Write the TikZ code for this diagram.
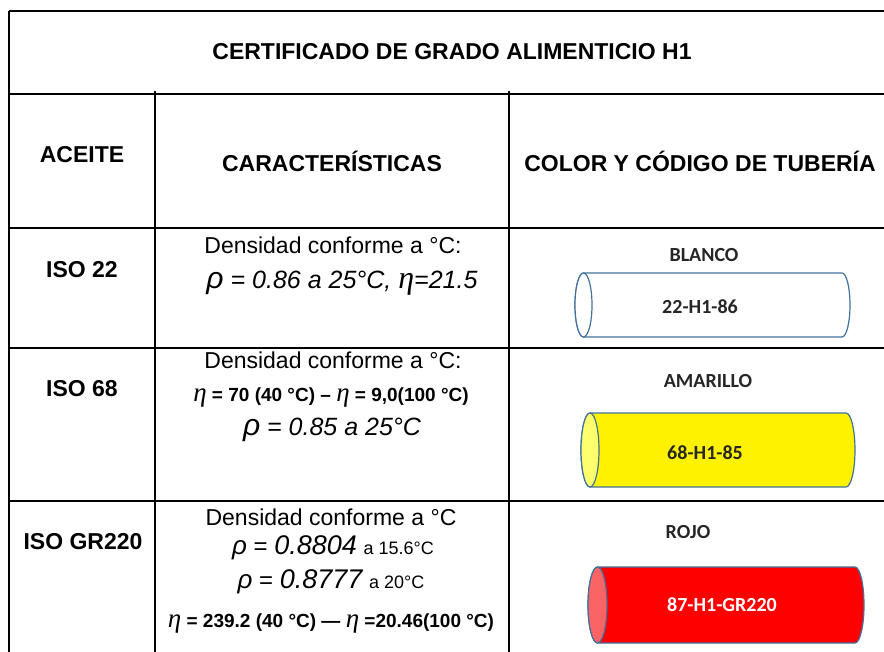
\documentclass[tikz,border=0pt]{standalone}
\usepackage{fontspec}
\setmainfont{Liberation Sans}
\newfontfamily\calibri{Carlito}
\newfontfamily\greekserif{Liberation Serif}
\usepackage{tikz}
\usetikzlibrary{positioning}

\definecolor{pipeline}{RGB}{65,113,156}
\definecolor{capyellow}{RGB}{255,255,110}
\definecolor{capred}{RGB}{250,100,100}
\definecolor{codetext}{RGB}{38,38,38}

\newcommand{\pxsize}[1]{\fontsize{#1}{#1}\selectfont}
\newcommand{\etaglyph}[1]{{\greekserif\mdseries\itshape\pxsize{#1}η}}
\newcommand{\rhoglyph}[1]{{\itshape\pxsize{#1}ρ}}

\tikzset{
  tabline/.style={line width=1.6pt, black},
  head/.style={font=\bfseries\pxsize{23}, inner sep=0pt},
  txt/.style={font=\pxsize{23}, inner sep=0pt},
  pipe/.style={line width=1.2pt, draw=pipeline},
  hue/.style={font=\calibri\bfseries\pxsize{20}, text=codetext, inner sep=0pt}
}

\begin{document}
\begin{tikzpicture}[x=1pt, y=-1pt]
\useasboundingbox (0,0) rectangle (884,652);

% table rules
\draw[tabline] (9,11) -- (884,11);
\draw[tabline] (9,11) -- (9,652);
\draw[tabline] (9,94) -- (884,94);
\draw[tabline] (155,91) -- (155,652);
\draw[tabline] (509,91) -- (509,652);
\draw[tabline] (9,228) -- (884,228);
\draw[tabline] (9,348) -- (884,348);
\draw[tabline] (9,501) -- (884,501);

\node[head] (T) at (452,52) {CERTIFICADO DE GRADO ALIMENTICIO H1};

\node[head] (H1) at (82,155) {ACEITE};
\node[head] (H2) at (332,161) {CARACTERÍSTICAS};
\node[head] (H3) at (700,161) {COLOR Y CÓDIGO DE TUBERÍA};

\node[head] (A1) at (82,270) {ISO 22};
\node[head] (A2) at (82,389) {ISO 68};
\node[head] (A3) at (83,542) {ISO GR220};

% caracteristicas
\node[txt] (C1a) at (333,245) {Densidad conforme a °C:};
\node[txt] (C1b) at (342,283) {\rhoglyph{30}\itshape\pxsize{25} = 0.86 a 25°C, \etaglyph{32}=21.5};

\node[txt] (C2a) at (333,360) {Densidad conforme a °C:};
\node[txt] (C2b) at (331,397) {\bfseries\pxsize{19}\etaglyph{27} = 70 (40 °C) – \etaglyph{27} = 9,0(100 °C)};
\node[txt] (C2c) at (332,430) {\rhoglyph{30}\itshape\pxsize{25} = 0.85 a 25°C};

\node[txt] (C3a) at (331,517) {Densidad conforme a °C};
\node[txt] (C3b) at (333,548) {\rhoglyph{26}\pxsize{24} = {\itshape\pxsize{27}0.8804} {\pxsize{18}a 15.6°C}};
\node[txt] (C3c) at (331,582) {\rhoglyph{26}\pxsize{24} = {\itshape\pxsize{27}0.8777} {\pxsize{18}a 20°C}};
\node[txt] (C3d) at (331,623) {\bfseries\pxsize{19}\etaglyph{27} = 239.2 (40 °C) — \etaglyph{27} =20.46(100 °C)};

% tuberias
\draw[pipe, fill=white] (583.5,273) -- (842,273) arc[start angle=-90, end angle=90, x radius=8, y radius=32] -- (583.5,337) arc[start angle=90, end angle=270, x radius=8.5, y radius=32] -- cycle;
\draw[pipe, fill=white] (583.5,305) ellipse [x radius=8.5, y radius=32];

\draw[pipe, fill=yellow] (590,413) -- (846,413) arc[start angle=-90, end angle=90, x radius=9, y radius=37] -- (590,487) arc[start angle=90, end angle=270, x radius=9, y radius=37] -- cycle;
\draw[pipe, fill=capyellow] (590,450) ellipse [x radius=9, y radius=37];

\draw[pipe, fill=red] (597.5,567) -- (855,567) arc[start angle=-90, end angle=90, x radius=9, y radius=38] -- (597.5,643) arc[start angle=90, end angle=270, x radius=9.5, y radius=38] -- cycle;
\draw[pipe, fill=capred] (597.5,605) ellipse [x radius=9.5, y radius=38];

\node[hue] (P1) at (704,255) {BLANCO};
\node[hue] (P2) at (708,381) {AMARILLO};
\node[hue] (P3) at (688,532) {ROJO};

\node[hue] (K1) at (700,307) {22-H1-86};
\node[hue] (K2) at (705,453) {68-H1-85};
\node[hue, text=white] (K3) at (722,605) {87-H1-GR220};
\end{tikzpicture}
\end{document}
